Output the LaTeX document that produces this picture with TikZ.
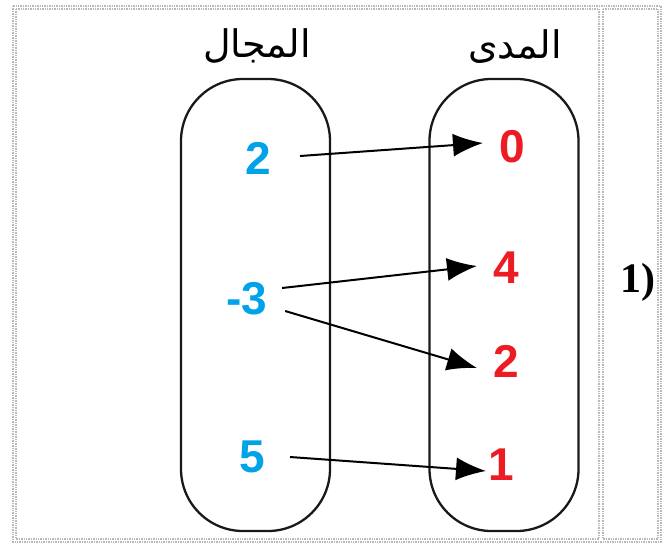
\documentclass[tikz,border=0pt]{standalone}
\usepackage{fontspec}
\setmainfont{Liberation Sans}
\newfontfamily\arabicfont[Script=Arabic]{DejaVu Sans}
\newfontfamily\serifbold{Liberation Serif}
\TeXXeTstate=1
\usetikzlibrary{arrows.meta}
\definecolor{dombl}{RGB}{0,162,232}
\definecolor{rngred}{RGB}{237,28,36}
\tikzset{
  cellborder/.style={draw=gray!55, line width=1.6pt, dash pattern=on 1.4pt off 1pt},
  setbox/.style={draw=black!90, line width=2.3pt, rounded corners=62pt,
    minimum width=149pt, minimum height=452pt, inner sep=0pt},
  domnum/.style={text=dombl, font=\fontsize{46}{46}\selectfont\bfseries, inner sep=0pt},
  rngnum/.style={text=rngred, font=\fontsize{46}{46}\selectfont\bfseries, inner sep=0pt},
  heading/.style={font=\fontsize{38}{38}\arabicfont, inner sep=0pt},
  maparrow/.style={draw=black, line width=2pt, -{Latex[length=30pt,width=23pt]}}
}
\begin{document}
\begin{tikzpicture}[x=1pt,y=-1pt]
\useasboundingbox (0,0) rectangle (663,544);
\fill[white] (0,0) rectangle (663,544);

% table frame and cells
\draw[cellborder] (13,6) rectangle (661,542);
\draw[cellborder] (16,9) rectangle (599,539);
\draw[cellborder] (603,9) rectangle (658,539);

% domain and range sets
\node[setbox] (dom) at (255.5,305) {};
\node[setbox] (rng) at (504,305) {};

\node[heading] (domlbl) at (257,46) {\beginR المجال\endR};
\node[heading] (rnglbl) at (515,47) {\beginR المدى\endR};

% elements
\node[domnum] (d2) at (258,158) {2};
\node[domnum] (dm3) at (247,299) {-3};
\node[domnum] (d5) at (252,457) {5};

\node[rngnum] (r0) at (512,147) {0};
\node[rngnum] (r4) at (506,268) {4};
\node[rngnum] (r2) at (506,361) {2};
\node[rngnum] (r1) at (501,465) {1};

% mapping arrows (shifts are in page points, positive = up)
\draw[maparrow] ([xshift=29pt,yshift=2pt]d2.east) -- ([xshift=-16pt,yshift=4pt]r0.west);
\draw[maparrow] ([xshift=14.5pt,yshift=11pt]dm3.east) -- ([xshift=-16pt,yshift=2pt]r4.west);
\draw[maparrow] ([xshift=17.5pt,yshift=-12pt]dm3.east) -- ([xshift=-16pt,yshift=-7pt]r2.west);
\draw[maparrow] ([xshift=25pt,yshift=0pt]d5.east) -- ([xshift=-2pt,yshift=-6pt]r1.west);

% item number
\node[font=\fontsize{42}{42}\serifbold\bfseries, inner sep=0pt] (itemno) at (638,282) {1)};
\end{tikzpicture}
\end{document}
